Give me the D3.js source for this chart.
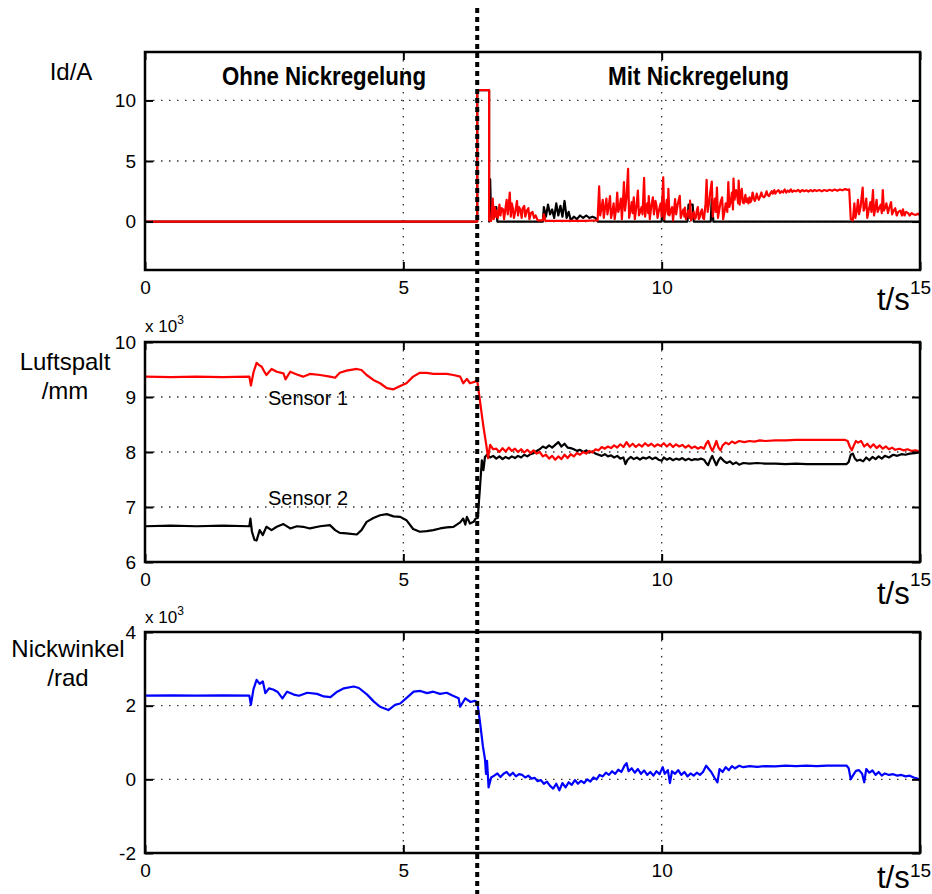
<!DOCTYPE html>
<meta charset="utf-8">
<style>
body { margin: 0; background: #fff; }
svg { display: block; font-family: "Liberation Sans", Arial, sans-serif; }
.frame { fill: none; stroke: #000; stroke-width: 2.5; }
.grid { stroke: #333; stroke-width: 1.3; stroke-dasharray: 1.5,6.5; }
.axis text { font-size: 19px; fill: #000; font-family: "Liberation Sans", Arial, sans-serif; }
.axis line { stroke: #000; stroke-width: 2; }
.trace { fill: none; stroke-width: 2.2; stroke-linejoin: round; }
.lbl { font-size: 24px; fill: #000; }
.title { font-size: 25px; font-weight: bold; fill: #000; }
</style>
<svg width="932" height="894"></svg>
<script src="https://d3js.org/d3.v7.min.js"></script>
<script>

// time axis (s)
var timeTicks = [0, 5, 10, 15];
var switchTime = 6.43;

// y ticks
var idTicks = [0, 5, 10];
var gapTicks = [6, 7, 8, 9, 10];
var pitchTicks = [-2, 0, 2, 4];

// Id/A, red trace  [t, value]
var idRed = [[0,0],[6.43,0],[6.43,10.85],[6.66,10.85],[6.66,0.1],[6.70,0.05],[6.73,1.9],[6.75,0.2],[6.77,1.2],[6.79,0.4],
  [6.81,0.9],[6.83,0.3],[6.86,1.4],[6.88,0.5],[6.90,1.1],[6.93,1.0],[6.95,0.2],[6.98,1.2],[7.00,1.8],[7.02,0.6],
  [7.04,1.3],[7.06,2.4],[7.08,0.4],[7.10,1.5],[7.12,1.1],[7.14,0.3],[7.17,0.9],[7.20,1.7],[7.22,0.5],[7.24,1.2],
  [7.27,0.9],[7.29,0.3],[7.31,1.1],[7.34,1.3],[7.36,0.4],[7.39,0.9],[7.42,1.1],[7.44,0.2],[7.47,0.7],[7.50,0.8],
  [7.53,0.3],[7.56,0.5],[7.60,0.1],[7.70,0.1],[7.72,0.6],[7.75,0.05],[8.00,0.05],[8.50,0.05],[8.76,0.1],[8.79,2.9],
  [8.81,0.5],[8.84,1.2],[8.86,1.8],[8.88,0.3],[8.90,1.0],[8.93,1.9],[8.95,0.6],[8.98,1.4],[9.00,2.1],[9.02,0.3],
  [9.05,0.9],[9.07,1.5],[9.09,0.2],[9.12,1.1],[9.14,2.4],[9.16,0.8],[9.19,1.3],[9.21,1.9],[9.23,0.2],[9.25,1.6],
  [9.27,3.25],[9.29,0.9],[9.32,2.0],[9.35,4.35],[9.37,0.3],[9.40,1.0],[9.42,1.6],[9.44,0.7],[9.46,2.0],[9.48,0.2],
  [9.51,1.2],[9.54,2.55],[9.56,0.5],[9.59,0.9],[9.61,1.2],[9.63,0.6],[9.66,3.6],[9.68,0.4],[9.70,1.1],[9.72,1.5],
  [9.74,0.7],[9.75,2.1],[9.77,0.2],[9.80,1.3],[9.83,2.0],[9.85,0.6],[9.88,1.7],[9.90,1.3],[9.92,0.3],[9.95,1.0],
  [9.98,1.5],[10.00,0.4],[10.03,3.66],[10.05,0.2],[10.08,1.2],[10.10,1.8],[10.12,0.6],[10.13,2.7],[10.15,0.5],[10.18,0.9],
  [10.20,1.2],[10.22,0.1],[10.24,0.9],[10.26,1.86],[10.28,0.6],[10.31,1.4],[10.35,2.13],[10.37,0.3],[10.40,0.8],[10.42,1.0],
  [10.44,0.4],[10.45,1.16],[10.47,0.2],[10.50,0.6],[10.52,0.9],[10.54,0.3],[10.55,1.72],[10.57,0.1],[10.60,0.5],[10.62,0.8],
  [10.64,0.2],[10.66,0.3],[10.68,0.9],[10.70,1.2],[10.72,0.2],[10.74,0.4],[10.76,0.8],[10.78,1.0],[10.80,0.3],[10.82,0.2],
  [10.85,1.5],[10.87,3.45],[10.89,0.8],[10.92,1.6],[10.94,2.4],[10.97,3.3],[10.99,0.4],[11.01,1.2],[11.03,1.9],[11.05,0.8],
  [11.07,2.8],[11.09,0.3],[11.12,1.1],[11.14,1.6],[11.17,2.0],[11.19,0.2],[11.22,0.9],[11.24,1.5],[11.27,0.8],[11.29,3.25],
  [11.31,1.2],[11.34,1.7],[11.36,2.4],[11.38,1.0],[11.39,3.55],[11.41,1.8],[11.44,2.6],[11.46,2.2],[11.48,1.5],[11.49,3.38],
  [11.51,1.4],[11.53,2.3],[11.55,2.7],[11.57,1.6],[11.59,1.5],[11.62,2.2],[11.64,1.6],[11.66,1.9],[11.68,1.5],[11.70,2.0],
  [11.72,1.6],[11.74,1.8],[11.76,2.4],[11.78,2.0],[11.80,1.7],[11.82,1.9],[11.84,2.3],[11.86,2.0],[11.88,1.8],[11.90,2.0],
  [11.93,2.4],[11.95,2.1],[11.98,2.0],[12.00,2.1],[12.03,2.5],[12.05,2.2],[12.08,2.1],[12.10,2.3],[12.13,2.5],[12.15,2.3],
  [12.18,2.6],[12.20,2.3],[12.23,2.5],[12.26,2.6],[12.29,2.35],[12.32,2.5],[12.35,2.4],[12.38,2.65],[12.41,2.4],[12.44,2.55],
  [12.47,2.45],[12.50,2.65],[12.53,2.45],[12.56,2.55],[12.60,2.5],[12.64,2.62],[12.68,2.45],[12.72,2.6],[12.76,2.5],[12.80,2.58],
  [12.84,2.48],[12.88,2.6],[12.92,2.5],[12.96,2.6],[13.00,2.52],[13.05,2.6],[13.10,2.5],[13.15,2.6],[13.20,2.52],[13.25,2.62],
  [13.30,2.54],[13.35,2.64],[13.40,2.55],[13.45,2.65],[13.50,2.58],[13.55,2.68],[13.60,2.62],[13.63,2.65],[13.66,0.2],[13.70,0.1],
  [13.73,1.5],[13.75,0.3],[13.78,1.0],[13.80,1.8],[13.82,0.6],[13.85,1.2],[13.89,2.8],[13.91,0.9],[13.94,1.3],[13.96,1.9],
  [13.98,0.3],[14.01,1.0],[14.04,1.6],[14.06,0.8],[14.09,2.6],[14.11,0.5],[14.14,1.2],[14.16,1.8],[14.18,0.8],[14.21,1.1],
  [14.24,1.4],[14.26,0.7],[14.28,2.6],[14.30,0.9],[14.33,1.2],[14.35,1.5],[14.38,0.7],[14.41,1.2],[14.44,1.6],[14.46,0.6],
  [14.49,0.9],[14.52,1.1],[14.55,0.5],[14.58,0.8],[14.62,0.9],[14.65,0.5],[14.67,1.0],[14.70,0.5],[14.73,0.8],[14.77,0.7],
  [14.80,0.5],[14.84,0.7],[14.87,0.6],[14.92,0.55],[14.96,0.65],[15.0,0.5]];

// Id/A, black trace
var idBlack = [[0,0],[6.43,0],[6.43,10.85],[6.66,10.85],[6.66,0],[6.68,3.5],[6.70,0.2],[6.72,1.2],[6.80,1.2],[6.82,0],
  [7.70,0],[7.72,1.2],[7.76,0.4],[7.80,1.4],[7.84,0.6],[7.88,1.0],[7.92,0.3],[7.96,1.5],[8.00,0.5],[8.04,1.3],
  [8.08,0.4],[8.12,1.7],[8.16,0.3],[8.20,0.8],[8.24,0.1],[8.30,0.4],[8.36,0.2],[8.42,0.5],[8.48,0.3],[8.54,0.5],
  [8.60,0.3],[8.66,0.4],[8.72,0.3],[8.76,0],[10.00,0],[10.02,2.0],[10.05,0],[10.50,0],[10.52,1.4],[10.60,1.4],
  [10.62,0],[10.95,0],[10.97,1.9],[11.00,0],[15,0]];

// Luftspalt, Sensor 1 (red), x 10^3
var sensor1 = [[0,9.37],[0.5,9.36],[1.0,9.37],[1.5,9.36],[2.02,9.37],[2.05,9.21],[2.10,9.45],[2.16,9.62],[2.21,9.58],[2.26,9.55],
  [2.31,9.46],[2.35,9.40],[2.45,9.51],[2.55,9.46],[2.68,9.43],[2.72,9.32],[2.81,9.46],[2.94,9.41],[3.06,9.37],[3.19,9.42],
  [3.39,9.40],[3.58,9.37],[3.68,9.35],[3.77,9.44],[3.90,9.48],[4.10,9.51],[4.19,9.49],[4.29,9.40],[4.42,9.31],[4.55,9.25],
  [4.68,9.16],[4.81,9.14],[4.94,9.20],[5.06,9.25],[5.19,9.37],[5.32,9.44],[5.45,9.44],[5.58,9.42],[5.71,9.42],[5.84,9.42],
  [5.97,9.40],[6.10,9.37],[6.16,9.25],[6.23,9.33],[6.29,9.25],[6.39,9.28],[6.43,9.30],[6.48,8.95],[6.55,8.46],[6.61,8.10],
  [6.64,7.89],[6.68,8.13],[6.74,8.05],[6.80,8.06],[6.86,8.0],[6.92,8.07],[6.98,8.01],[7.04,8.08],[7.10,8.02],[7.16,8.06],
  [7.22,8.0],[7.28,8.05],[7.34,7.99],[7.40,8.04],[7.46,7.98],[7.52,8.03],[7.58,7.97],[7.64,8.0],[7.70,7.92],[7.76,7.95],
  [7.82,7.88],[7.88,7.93],[7.94,7.86],[8.00,7.92],[8.06,7.87],[8.12,7.95],[8.18,7.89],[8.24,7.96],[8.30,7.92],[8.36,7.98],
  [8.42,7.95],[8.48,8.0],[8.54,7.97],[8.60,8.02],[8.66,7.99],[8.72,8.05],[8.78,8.03],[8.84,8.09],[8.90,8.06],[8.96,8.1],
  [9.02,8.07],[9.08,8.12],[9.14,8.08],[9.20,8.14],[9.26,8.09],[9.32,8.18],[9.38,8.1],[9.44,8.15],[9.50,8.09],[9.56,8.14],
  [9.62,8.1],[9.68,8.16],[9.74,8.11],[9.80,8.15],[9.86,8.1],[9.92,8.14],[9.98,8.11],[10.04,8.16],[10.10,8.1],[10.16,8.15],
  [10.22,8.09],[10.28,8.14],[10.34,8.1],[10.40,8.13],[10.46,8.08],[10.52,8.12],[10.58,8.07],[10.64,8.1],[10.70,8.06],[10.76,8.09],
  [10.82,8.06],[10.86,8.15],[10.90,8.2],[10.94,8.1],[10.98,8.02],[11.02,8.1],[11.06,8.2],[11.10,8.08],[11.14,8.03],[11.18,8.12],
  [11.24,8.17],[11.30,8.14],[11.36,8.19],[11.42,8.16],[11.50,8.2],[11.60,8.18],[11.70,8.2],[11.80,8.19],[11.90,8.21],[12.0,8.2],
  [12.2,8.21],[12.4,8.21],[12.6,8.22],[12.8,8.22],[13.0,8.22],[13.2,8.22],[13.4,8.22],[13.55,8.22],[13.60,8.2],[13.64,8.1],
  [13.68,8.03],[13.72,8.12],[13.76,8.2],[13.80,8.17],[13.86,8.2],[13.92,8.1],[13.98,8.15],[14.04,8.08],[14.10,8.14],[14.16,8.07],
  [14.22,8.12],[14.28,8.06],[14.34,8.1],[14.40,8.05],[14.46,8.08],[14.52,8.04],[14.60,8.06],[14.68,8.03],[14.76,8.05],[14.84,8.02],
  [14.92,8.03],[15.0,8.0]];

// Luftspalt, Sensor 2 (black), x 10^3
var sensor2 = [[0,6.65],[0.5,6.66],[1.0,6.65],[1.5,6.66],[2.02,6.65],[2.04,6.79],[2.07,6.55],[2.12,6.40],[2.16,6.39],[2.22,6.58],
  [2.28,6.49],[2.35,6.64],[2.45,6.58],[2.55,6.64],[2.68,6.69],[2.81,6.61],[2.94,6.65],[3.06,6.64],[3.19,6.61],[3.39,6.65],
  [3.58,6.67],[3.68,6.58],[3.77,6.53],[3.90,6.52],[4.10,6.50],[4.19,6.58],[4.29,6.73],[4.42,6.80],[4.55,6.85],[4.68,6.87],
  [4.81,6.83],[4.94,6.82],[5.06,6.76],[5.19,6.60],[5.32,6.55],[5.45,6.56],[5.58,6.58],[5.71,6.61],[5.84,6.63],[5.97,6.64],
  [6.10,6.72],[6.16,6.79],[6.20,6.68],[6.23,6.82],[6.29,6.70],[6.36,6.73],[6.40,6.79],[6.44,6.80],[6.48,7.31],[6.52,7.85],
  [6.55,7.67],[6.58,7.91],[6.62,7.95],[6.68,7.90],[6.74,7.93],[6.80,7.88],[6.86,7.92],[6.92,7.87],[6.98,7.91],[7.04,7.88],
  [7.10,7.92],[7.16,7.89],[7.22,7.93],[7.28,7.9],[7.34,7.95],[7.40,7.92],[7.46,7.96],[7.52,7.98],[7.58,8.02],[7.64,8.05],
  [7.70,8.1],[7.76,8.07],[7.82,8.12],[7.88,8.08],[7.94,8.13],[8.00,8.18],[8.06,8.1],[8.12,8.15],[8.18,8.08],[8.24,8.07],
  [8.30,8.05],[8.36,8.02],[8.42,8.04],[8.48,8.0],[8.54,8.03],[8.60,7.99],[8.66,8.01],[8.72,7.97],[8.78,7.95],[8.84,7.93],
  [8.90,7.96],[8.96,7.92],[9.02,7.94],[9.08,7.9],[9.14,7.93],[9.20,7.88],[9.26,7.9],[9.30,7.78],[9.34,7.86],[9.40,7.91],
  [9.46,7.87],[9.52,7.9],[9.58,7.86],[9.64,7.9],[9.70,7.88],[9.76,7.91],[9.82,7.87],[9.88,7.9],[9.94,7.86],[10.0,7.84],
  [10.04,7.9],[10.10,7.86],[10.16,7.89],[10.22,7.85],[10.28,7.88],[10.34,7.86],[10.40,7.89],[10.46,7.85],[10.52,7.88],[10.58,7.85],
  [10.64,7.87],[10.70,7.86],[10.76,7.88],[10.82,7.86],[10.86,7.8],[10.90,7.76],[10.94,7.86],[10.98,7.93],[11.02,7.84],[11.06,7.76],
  [11.10,7.85],[11.14,7.9],[11.20,7.84],[11.26,7.8],[11.32,7.83],[11.38,7.78],[11.44,7.81],[11.50,7.77],[11.58,7.8],[11.70,7.79],
  [11.85,7.8],[12.0,7.79],[12.2,7.79],[12.4,7.78],[12.6,7.79],[12.8,7.78],[13.0,7.78],[13.2,7.78],[13.4,7.78],[13.58,7.78],
  [13.62,7.82],[13.66,7.95],[13.70,7.97],[13.74,7.88],[13.78,7.84],[13.84,7.86],[13.90,7.83],[13.96,7.9],[14.02,7.85],[14.08,7.91],
  [14.14,7.87],[14.20,7.92],[14.26,7.88],[14.32,7.93],[14.40,7.9],[14.48,7.95],[14.56,7.93],[14.64,7.96],[14.72,7.95],[14.80,7.97],
  [14.90,7.98],[15.0,8.0]];

// Nickwinkel (blue), x 10^3
var pitch = [[0,2.27],[0.5,2.28],[1.0,2.27],[1.5,2.28],[2.02,2.27],[2.05,2.02],[2.10,2.45],[2.16,2.70],[2.22,2.59],[2.28,2.66],
  [2.33,2.34],[2.40,2.47],[2.48,2.44],[2.57,2.37],[2.66,2.20],[2.75,2.38],[2.88,2.30],[2.98,2.27],[3.14,2.35],[3.33,2.32],
  [3.46,2.25],[3.59,2.23],[3.72,2.38],[3.85,2.47],[4.04,2.52],[4.14,2.48],[4.30,2.30],[4.43,2.11],[4.55,1.97],[4.71,1.88],
  [4.84,2.02],[4.94,2.06],[5.07,2.22],[5.20,2.38],[5.33,2.40],[5.46,2.34],[5.58,2.38],[5.71,2.32],[5.84,2.35],[5.94,2.28],
  [6.07,2.20],[6.10,1.97],[6.20,2.20],[6.30,2.10],[6.38,2.13],[6.43,2.10],[6.48,1.60],[6.54,0.90],[6.58,0.55],[6.60,0.15],
  [6.62,0.50],[6.65,-0.22],[6.70,0.05],[6.76,0.1],[6.82,0.16],[6.88,0.06],[6.94,0.15],[7.00,0.2],[7.06,0.1],[7.12,0.18],
  [7.18,0.08],[7.24,0.14],[7.30,0.12],[7.36,0.05],[7.42,0.1],[7.48,0.02],[7.54,0.04],[7.60,-0.05],[7.66,-0.02],[7.72,-0.12],
  [7.78,-0.06],[7.84,-0.18],[7.90,-0.25],[7.96,-0.12],[8.02,-0.3],[8.08,-0.1],[8.14,-0.22],[8.20,-0.08],[8.26,-0.15],[8.32,-0.02],
  [8.38,-0.12],[8.44,-0.04],[8.50,-0.1],[8.56,0.0],[8.62,-0.06],[8.68,0.05],[8.74,0.0],[8.80,0.12],[8.86,0.08],[8.92,0.18],
  [8.98,0.12],[9.04,0.22],[9.10,0.15],[9.16,0.26],[9.22,0.2],[9.28,0.37],[9.32,0.44],[9.36,0.22],[9.42,0.3],[9.48,0.18],
  [9.54,0.28],[9.60,0.15],[9.66,0.24],[9.72,0.12],[9.78,0.2],[9.84,0.1],[9.90,0.22],[9.96,0.14],[10.02,0.33],[10.06,0.15],
  [10.12,0.25],[10.16,-0.1],[10.20,0.22],[10.26,0.15],[10.32,0.25],[10.38,0.12],[10.44,0.2],[10.50,0.08],[10.56,0.16],[10.62,0.1],
  [10.68,0.18],[10.74,0.12],[10.80,0.2],[10.86,0.37],[10.90,0.3],[10.96,0.2],[11.02,0.05],[11.08,-0.08],[11.12,0.28],[11.18,0.2],
  [11.24,0.33],[11.30,0.25],[11.36,0.36],[11.42,0.3],[11.50,0.37],[11.58,0.33],[11.70,0.36],[11.85,0.34],[12.0,0.36],[12.2,0.35],
  [12.4,0.37],[12.6,0.36],[12.8,0.37],[13.0,0.36],[13.2,0.37],[13.4,0.37],[13.58,0.37],[13.62,0.3],[13.66,0.0],[13.70,0.1],
  [13.76,0.23],[13.82,0.25],[13.88,0.15],[13.92,-0.08],[13.96,0.28],[14.02,0.18],[14.08,0.24],[14.14,0.12],[14.20,0.2],[14.26,0.1],
  [14.32,0.16],[14.40,0.12],[14.48,0.14],[14.56,0.1],[14.64,0.12],[14.72,0.08],[14.80,0.1],[14.88,0.05],[14.95,0.02],[15.0,-0.02]];

var svg = d3.select("svg");
var left = 145, right = 920;

var x = d3.scaleLinear().domain([0, 15]).range([left, right]);
var plain = function(d) { return String(d); };

var panels = [
  { top: 52, bottom: 270, domain: [-4, 14], ticks: idTicks, unitY: 310,
    series: [{ data: idBlack, color: "#000" }, { data: idRed, color: "#f00" }] },
  { top: 342, bottom: 562, domain: [6, 10], ticks: gapTicks, unitY: 604,
    series: [{ data: sensor2, color: "#000" }, { data: sensor1, color: "#f00" }] },
  { top: 632, bottom: 853, domain: [-2, 4], ticks: pitchTicks, unitY: 888,
    series: [{ data: pitch, color: "#00f" }] }
];

panels.forEach(function(p) {
  var y = d3.scaleLinear().domain(p.domain).range([p.bottom, p.top]);
  var g = svg.append("g");

  // dotted grid
  g.selectAll(".hgrid").data(p.ticks).enter().append("line")
      .attr("class", "grid")
      .attr("x1", left).attr("x2", right)
      .attr("y1", function(d) { return y(d); })
      .attr("y2", function(d) { return y(d); });
  g.selectAll(".vgrid").data(timeTicks.slice(1, -1)).enter().append("line")
      .attr("class", "grid")
      .attr("x1", function(d) { return x(d); })
      .attr("x2", function(d) { return x(d); })
      .attr("y1", p.top).attr("y2", p.bottom);

  var line = d3.line()
      .x(function(d) { return x(d[0]); })
      .y(function(d) { return y(d[1]); });

  p.series.forEach(function(s) {
    g.append("path")
        .datum(s.data)
        .attr("class", "trace")
        .attr("stroke", s.color)
        .attr("d", line);
  });

  // axes with inward ticks
  g.append("g").attr("class", "axis")
      .attr("transform", "translate(" + left + ",0)")
      .call(d3.axisLeft(y).tickValues(p.ticks).tickSize(-8).tickPadding(9).tickFormat(plain));
  g.append("g").attr("class", "axis")
      .attr("transform", "translate(" + right + ",0)")
      .call(d3.axisRight(y).tickValues(p.ticks).tickSize(-8).tickFormat(""));
  g.append("g").attr("class", "axis")
      .attr("transform", "translate(0," + p.bottom + ")")
      .call(d3.axisBottom(x).tickValues(timeTicks).tickSize(-8).tickPadding(11).tickFormat(plain));
  g.append("g").attr("class", "axis")
      .attr("transform", "translate(0," + p.top + ")")
      .call(d3.axisTop(x).tickValues(timeTicks).tickSize(-8).tickFormat(""));
  g.selectAll(".axis").attr("font-size", null).attr("font-family", null);
  g.selectAll(".axis .domain").remove();

  g.append("rect")
      .attr("class", "frame")
      .attr("x", left).attr("y", p.top)
      .attr("width", right - left).attr("height", p.bottom - p.top);

  g.append("text")
      .attr("x", right - 43).attr("y", p.unitY)
      .attr("font-size", 31)
      .text("t/s");
});

// y-axis labels
var labels = [
  { lines: ["Id/A"], x: 71, y: 80 },
  { lines: ["Luftspalt", "/mm"], x: 65, y: 370 },
  { lines: ["Nickwinkel", "/rad"], x: 68, y: 657 }
];
labels.forEach(function(l) {
  l.lines.forEach(function(s, i) {
    svg.append("text").attr("class", "lbl")
        .attr("text-anchor", "middle")
        .attr("x", l.x).attr("y", l.y + i * 29)
        .text(s);
  });
});

// exponent markers
[332, 623].forEach(function(yy) {
  var t = svg.append("text").attr("x", 145).attr("y", yy).attr("font-size", 17);
  t.append("tspan").text("x 10");
  t.append("tspan").attr("dy", -8).attr("font-size", 12).text("3");
});

svg.append("text").attr("class", "title")
    .attr("x", 222).attr("y", 85)
    .attr("textLength", 204).attr("lengthAdjust", "spacingAndGlyphs")
    .text("Ohne Nickregelung");
svg.append("text").attr("class", "title")
    .attr("x", 608).attr("y", 85)
    .attr("textLength", 181).attr("lengthAdjust", "spacingAndGlyphs")
    .text("Mit Nickregelung");

svg.append("text").attr("x", 268).attr("y", 405).attr("font-size", 20).text("Sensor 1");
svg.append("text").attr("x", 268).attr("y", 505).attr("font-size", 20).text("Sensor 2");

// switch-over marker
svg.append("line")
    .attr("x1", x(switchTime)).attr("x2", x(switchTime))
    .attr("y1", 8).attr("y2", 894)
    .attr("stroke", "#000")
    .attr("stroke-width", 4)
    .attr("stroke-dasharray", "5,4");

</script>
